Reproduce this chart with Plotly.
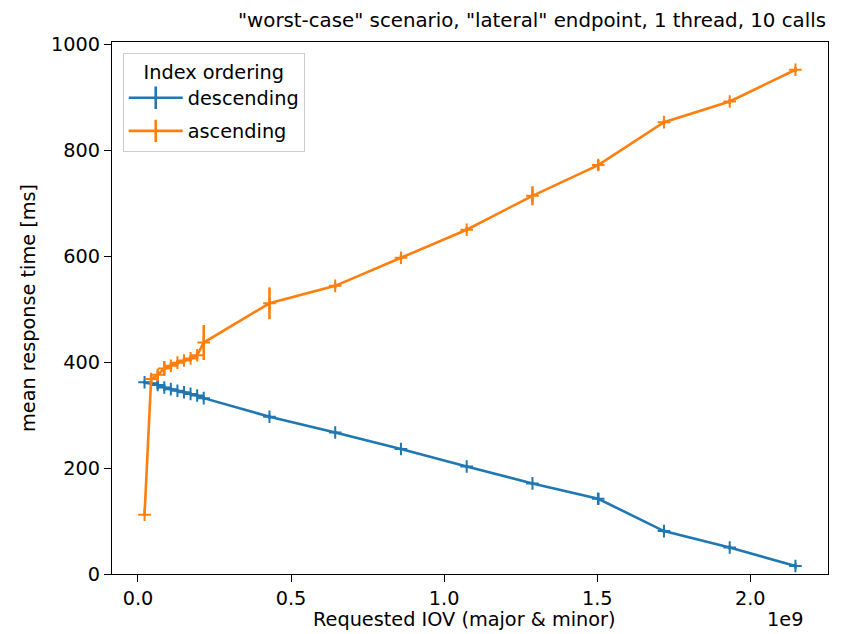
import plotly.graph_objects as go

# Requested IOV values (major & minor packed into one integer)
iov = [21474836, 42949673, 64424509, 85899346, 107374182, 128849019,
       150323855, 171798692, 193273528, 214748365, 429496730, 644245094,
       858993459, 1073741824, 1288490189, 1503238554, 1717986918,
       1932735283, 2147483647]

# mean response time [ms] and its spread, per index ordering
desc_mean = [362, 360, 357, 352, 349, 346, 343, 340, 337, 332,
             297, 267, 236, 203, 171, 142, 81, 50, 15]
desc_err = [3, 3, 8, 6, 3, 3, 3, 3, 3, 4, 4, 3, 3, 3, 3, 11, 4, 4, 5]

asc_mean = [112, 368, 376, 388, 393, 399, 403, 407, 413, 437,
            511, 544, 597, 650, 714, 772, 853, 892, 952]
asc_err = [3, 8, 8, 14, 6, 5, 6, 6, 7, 33, 30, 5, 5, 5, 18, 10, 5, 5, 5]

series = [("descending", desc_mean, desc_err, "#1f77b4"),
          ("ascending", asc_mean, asc_err, "#ff7f0e")]

x_ticks = [0, 0.5e9, 1.0e9, 1.5e9, 2.0e9]
x_tick_text = ["0.0", "0.5", "1.0", "1.5", "2.0"]
y_ticks = [0, 200, 400, 600, 800, 1000]

FONT = "DejaVu Sans"
FS = 19.3
LW = 2.6

# plot area in pixels
L, R, T, B = 112, 828, 42, 574
W, H = 842, 634

fig = go.Figure()
for name, mean, err, color in series:
    fig.add_trace(go.Scatter(
        x=iov, y=mean, mode="lines+markers", name=name, showlegend=False,
        line=dict(color=color, width=LW),
        marker=dict(symbol="cross-thin", size=9, color=color,
                    line=dict(color=color, width=2)),
        error_y=dict(type="data", array=err, visible=True, color=color,
                     thickness=LW, width=0),
    ))
# legend handles: line crossed by a vertical error bar
for name, mean, err, color in series:
    fig.add_trace(go.Scatter(
        x=[None], y=[None], mode="lines+markers", name=name,
        legendgroup=name,
        line=dict(color=color, width=LW),
        marker=dict(symbol="line-ns", size=19, color=color,
                    line=dict(color=color, width=LW)),
    ))

# autoscale like the errorbar default: 5 % margin on x, y starts at 0
span = iov[-1] - iov[0]
x_range = [iov[0] - 0.05 * span, iov[-1] + 0.05 * span]
lo = min(m - e for m, e in zip(desc_mean + asc_mean, desc_err + asc_err))
hi = max(m + e for m, e in zip(desc_mean + asc_mean, desc_err + asc_err))
y_range = [0, hi + 0.05 * (hi - lo)]

axis_common = dict(showline=True, linecolor="black", linewidth=1.2,
                   mirror=True, ticks="outside", ticklen=7, tickwidth=1.2,
                   tickcolor="black", showgrid=False, zeroline=False,
                   automargin=False,
                   tickfont=dict(family=FONT, size=FS, color="black"))

pw, ph = R - L, B - T


def px_x(x):
    return (x - L) / pw


def px_y(y):
    return (B - y) / ph


text_font = dict(family=FONT, size=FS, color="black")

fig.update_layout(
    width=W, height=H,
    margin=dict(l=L, r=W - R, t=T, b=H - B),
    plot_bgcolor="white", paper_bgcolor="white",
    font=text_font,
    xaxis=dict(range=x_range, tickvals=x_ticks, ticktext=x_tick_text,
               **axis_common),
    yaxis=dict(range=y_range, tickvals=y_ticks, **axis_common),
    legend=dict(x=0.015, y=0.98, xanchor="left", yanchor="top",
                bgcolor="rgba(255,255,255,0.85)", bordercolor="#cccccc",
                borderwidth=1, tracegroupgap=5, itemwidth=54,
                font=text_font,
                title=dict(text="Index ordering", side="top center",
                           font=text_font)),
    annotations=[
        # title, right-aligned with the axes
        dict(text='"worst-case" scenario, "lateral" endpoint, 1 thread, 10 calls',
             xref="paper", yref="paper", x=1.0, y=px_y(20),
             xanchor="right", yanchor="middle", showarrow=False,
             font=dict(family=FONT, size=19.8, color="black")),
        dict(text="Requested IOV (major & minor)", xref="paper", yref="paper",
             x=px_x(464), y=px_y(619), xanchor="center", yanchor="middle",
             showarrow=False, font=text_font),
        dict(text="mean response time [ms]", xref="paper", yref="paper",
             x=px_x(28), y=0.5, xanchor="center", yanchor="middle",
             textangle=-90, showarrow=False, font=text_font),
        dict(text="1e9", xref="paper", yref="paper",
             x=px_x(805), y=px_y(619), xanchor="right", yanchor="middle",
             showarrow=False, font=text_font),
    ],
)

fig.write_html("out.html")
